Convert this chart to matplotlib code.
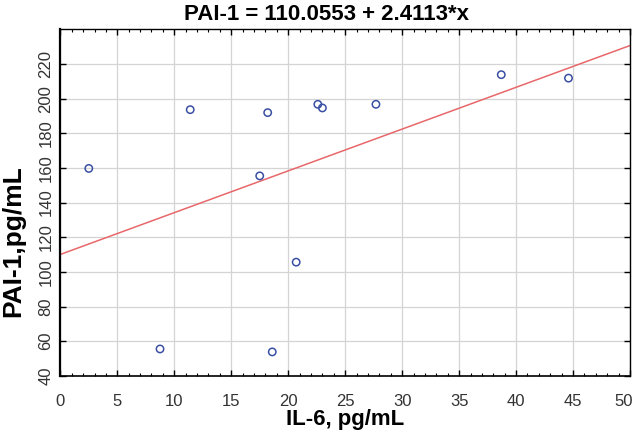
import matplotlib
matplotlib.use("Agg")
import matplotlib.pyplot as plt
import matplotlib.transforms as mtransforms
import numpy as np
from matplotlib.ticker import MultipleLocator

plt.rcParams["font.family"] = ["Liberation Sans", "DejaVu Sans"]

# --- Data ---
il6 = [2.5, 8.75, 11.4, 17.5, 18.2, 18.6, 20.7, 22.6, 23.0, 27.7, 38.7, 44.6]
pai1 = [159.7, 55.5, 193.6, 155.4, 191.9, 53.8, 105.6, 196.7, 194.6, 196.7, 213.8, 211.8]

intercept = 110.0553
slope = 2.4113
x_ticks = [0, 5, 10, 15, 20, 25, 30, 35, 40, 45, 50]
y_ticks = [40, 60, 80, 100, 120, 140, 160, 180, 200, 220]

# --- Plot ---
fig = plt.figure(figsize=(6.33, 4.37), dpi=100)
ax = fig.add_axes([0.0953, 0.1400, 0.9000, 0.7930])

ax.grid(True, color="#d4d4d4", linewidth=0.9, zorder=0)
ax.set_axisbelow(True)

fit_x = np.array([0, 50])
ax.plot(fit_x, intercept + slope * fit_x, color="#e8676a", linewidth=1.1, zorder=2)
ax.scatter(il6, pai1, s=28, facecolors="none", edgecolors="#3a4fa3", linewidths=1.1, zorder=3)

ax.set_xlim(0, 50)
ax.set_ylim(40, 240)
ax.set_xticks(x_ticks)
ax.set_yticks(y_ticks)
ax.xaxis.set_minor_locator(MultipleLocator(1))
ax.tick_params(which="both", direction="in", top=True, right=True, colors="black",
               labelcolor="#333333", labelsize=12)
ax.tick_params(which="major", length=4, width=1)
ax.tick_params(which="minor", length=2.5, width=0.8)
ax.tick_params(axis="x", pad=13)
ax.tick_params(axis="y", pad=5)
for lab in ax.get_yticklabels():
    lab.set_rotation(90)
    lab.set_va("center")

# keep the last x label inside the figure
last = ax.get_xticklabels()[-1]
last.set_transform(last.get_transform() + mtransforms.ScaledTranslation(-6 / 100, 0, fig.dpi_scale_trans))

for side in ["left", "bottom", "top", "right"]:
    ax.spines[side].set_color("black")
ax.spines["left"].set_linewidth(1.6)
ax.spines["bottom"].set_linewidth(1.2)
ax.spines["top"].set_linewidth(1.0)
ax.spines["right"].set_linewidth(1.0)

ax.set_title("PAI-1 = 110.0553 + 2.4113*x", fontsize=16, fontweight="bold", pad=7, x=0.468)
ax.set_xlabel("IL-6, pg/mL", fontsize=16, fontweight="bold", labelpad=0)
ax.set_ylabel("PAI-1,pg/mL", fontsize=19, fontweight="bold")
ax.yaxis.set_label_coords(-0.062, 0.39)

fig.savefig("out.png", dpi=100)
